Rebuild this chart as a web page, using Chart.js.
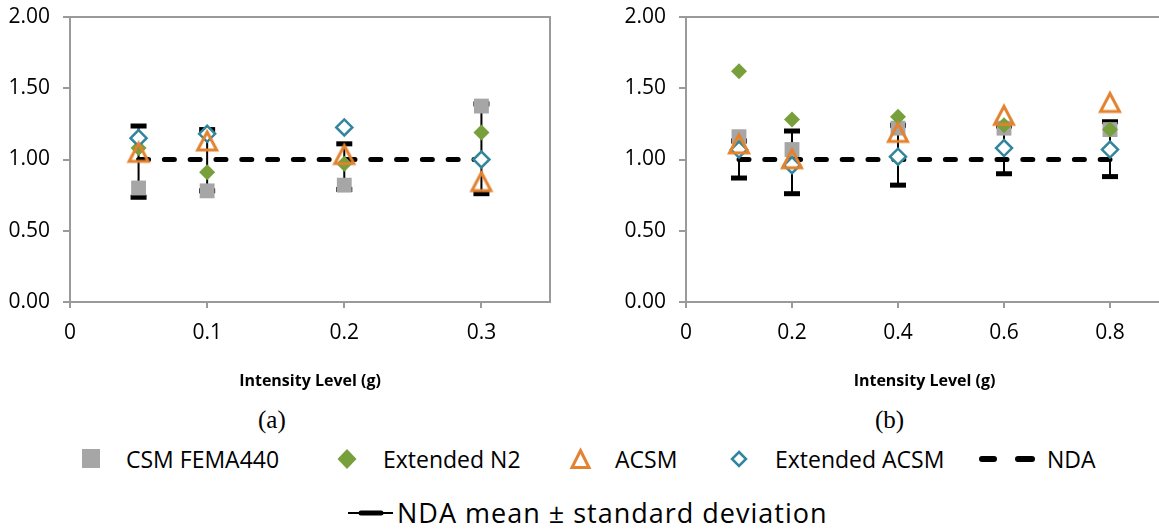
<!DOCTYPE html>
<html>
<head>
<meta charset="utf-8">
<script src="https://cdn.jsdelivr.net/npm/chart.js@4"></script>
<style>
    html, body { margin: 0; padding: 0; background: #fff; overflow: hidden; }
    body { width: 1159px; height: 529px; position: relative; font-family: 'Open Sans', sans-serif; color: #000; }
    .box { position: absolute; }
    .caption { position: absolute; font-family: 'Liberation Serif', serif; font-size: 25px; line-height: 30px; }
    .leg { position: absolute; font-size: 23px; line-height: 30px; white-space: nowrap; }
    .leg2 { position: absolute; font-size: 27px; line-height: 36px; letter-spacing: 1px; white-space: nowrap; }
</style>
</head>
<body>
<div class="box" style="left:0;top:0;width:580px;height:400px;"><canvas id="chartA"></canvas></div>
<div class="box" style="left:616px;top:0;width:560px;height:400px;"><canvas id="chartB"></canvas></div>

<div class="caption" style="left:258px;top:405px;">(a)</div>
<div class="caption" style="left:875px;top:405px;">(b)</div>

<!-- legend -->
<svg class="box" style="left:0;top:440px;" width="1159" height="90">
    <rect x="82" y="9" width="18" height="19" fill="#a6a6a6"/>
    <polygon points="347,9 356.5,19 347,29 337.5,19" fill="#77a03c"/>
    <polygon points="580.5,10.5 589,27.5 572,27.5" fill="none" stroke="#e3822f" stroke-width="3"/>
    <polygon points="739,12 746,19 739,26 732,19" fill="none" stroke="#31859c" stroke-width="2.5"/>
    <line x1="982" y1="19" x2="994" y2="19" stroke="#000" stroke-width="6" stroke-linecap="round"/>
    <line x1="1018" y1="19" x2="1032" y2="19" stroke="#000" stroke-width="6" stroke-linecap="round"/>
    <line x1="348" y1="73" x2="393" y2="73" stroke="#000" stroke-width="2"/>
    <line x1="361" y1="73" x2="381" y2="73" stroke="#000" stroke-width="5" stroke-linecap="round"/>
</svg>
<div class="leg" style="left:126px;top:444px;">CSM FEMA440</div>
<div class="leg" style="left:383px;top:444px;">Extended N2</div>
<div class="leg" style="left:615px;top:444px;">ACSM</div>
<div class="leg" style="left:775px;top:444px;">Extended ACSM</div>
<div class="leg" style="left:1047px;top:444px;">NDA</div>
<div class="leg2" style="left:397px;top:495px;">NDA mean ± standard deviation</div>

<script>
// Panel (a) data
const xA = [0.05, 0.1, 0.2, 0.3];
const csmA = [0.80, 0.78, 0.82, 1.375];
const n2A = [1.08, 0.91, 0.97, 1.19];
const acsmA = [1.05, 1.13, 1.035, 0.845];
const extA = [1.15, 1.18, 1.225, 1.00];
const ndaA = [1.00, 1.00, 1.00, 1.00];
const hiA = [1.235, 1.21, 1.11, 1.39];
const loA = [0.735, 0.78, 0.79, 0.76];
const xTicksA = [0, 0.1, 0.2, 0.3];

// Panel (b) data
const xB = [0.1, 0.2, 0.4, 0.6, 0.8];
const csmB = [1.16, 1.07, 1.22, 1.22, 1.21];
const n2B = [1.62, 1.28, 1.30, 1.24, 1.21];
const acsmB = [1.11, 1.005, 1.19, 1.31, 1.40];
const extB = [1.07, 0.96, 1.02, 1.08, 1.07];
const ndaB = [1.00, 1.00, 1.00, 1.00, 1.00];
const hiB = [1.13, 1.20, 1.24, 1.235, 1.265];
const loB = [0.87, 0.76, 0.82, 0.90, 0.88];
const xTicksB = [0, 0.2, 0.4, 0.6, 0.8];

const yTicks = [0, 0.5, 1.0, 1.5, 2.0];

const axisColor = '#9a9a9a';
const tickFont = { family: 'Open Sans', size: 21 };

// Outlined triangle marker (centered on its box like the original)
function makeTriangle() {
    const c = document.createElement('canvas');
    c.width = 26;
    c.height = 26;
    const ctx = c.getContext('2d');
    ctx.strokeStyle = '#e3822f';
    ctx.lineWidth = 3;
    ctx.beginPath();
    ctx.moveTo(13, 4);
    ctx.lineTo(22.5, 22);
    ctx.lineTo(3.5, 22);
    ctx.closePath();
    ctx.stroke();
    return c;
}
const triangle = makeTriangle();

function pts(xs, ys) {
    return xs.map((x, i) => ({ x: x, y: ys[i] }));
}

// Vertical bars, broken with nulls between groups
function errorBars(xs, hi, lo) {
    const out = [];
    xs.forEach((x, i) => {
        out.push({ x: x, y: hi[i] });
        out.push({ x: x, y: lo[i] });
        out.push({ x: x, y: null });
    });
    return out;
}

// Frame on top and right of the plot area
const framePlugin = {
    id: 'frame',
    beforeDatasetsDraw(chart) {
        const a = chart.chartArea;
        const ctx = chart.ctx;
        ctx.save();
        ctx.strokeStyle = axisColor;
        ctx.lineWidth = 2;
        ctx.beginPath();
        ctx.moveTo(a.left, a.top);
        ctx.lineTo(a.right, a.top);
        ctx.lineTo(a.right, a.bottom);
        ctx.stroke();
        ctx.restore();
    }
};

function makeChart(id, xs, csm, n2, acsm, ext, nda, hi, lo, xTicks, xMax, padRight) {
    const ctx = document.getElementById(id).getContext('2d');
    return new Chart(ctx, {
        type: 'scatter',
        data: {
            datasets: [
                {
                    label: 'ACSM',
                    data: pts(xs, acsm),
                    pointStyle: triangle,
                    order: 0
                },
                {
                    label: 'Extended ACSM',
                    data: pts(xs, ext),
                    pointStyle: 'rectRot',
                    pointRadius: 8,
                    backgroundColor: '#ffffff',
                    borderColor: '#31859c',
                    borderWidth: 2.5,
                    order: 1
                },
                {
                    label: 'Extended N2',
                    data: pts(xs, n2),
                    pointStyle: 'rectRot',
                    pointRadius: 8,
                    backgroundColor: '#77a03c',
                    borderColor: '#77a03c',
                    borderWidth: 0,
                    order: 2
                },
                {
                    label: 'CSM FEMA440',
                    data: pts(xs, csm),
                    pointStyle: 'rect',
                    pointRadius: 10.5,
                    backgroundColor: '#a6a6a6',
                    borderColor: '#a6a6a6',
                    borderWidth: 0,
                    order: 3
                },
                {
                    label: 'NDA',
                    data: pts(xs, nda),
                    showLine: true,
                    pointRadius: 0,
                    borderColor: '#000',
                    borderWidth: 5,
                    borderDash: [10, 15.8],
                    borderCapStyle: 'round',
                    order: 4
                },
                {
                    label: 'NDA mean ± standard deviation',
                    data: errorBars(xs, hi, lo),
                    showLine: true,
                    spanGaps: false,
                    borderColor: '#000',
                    borderWidth: 2,
                    pointStyle: 'line',
                    pointRadius: 8,
                    pointBorderWidth: 5,
                    pointBorderColor: '#000',
                    order: 5
                }
            ]
        },
        options: {
            responsive: true,
            maintainAspectRatio: false,
            animation: false,
            devicePixelRatio: 1,
            layout: {
                padding: { top: 17, right: padRight, left: 0, bottom: 0 }
            },
            scales: {
                x: {
                    type: 'linear',
                    min: 0,
                    max: xMax,
                    afterBuildTicks: (scale) => {
                        scale.ticks = xTicks.map(v => ({ value: v }));
                    },
                    afterFit: (scale) => {
                        scale.height = 98;
                        scale.paddingLeft = 0;
                        scale.paddingRight = 0;
                    },
                    ticks: {
                        font: tickFont,
                        color: '#000',
                        padding: 12,
                        maxRotation: 0,
                        callback: (v) => String(+v.toFixed(2))
                    },
                    grid: {
                        drawOnChartArea: false,
                        tickLength: 6,
                        color: axisColor,
                        lineWidth: 2
                    },
                    border: { color: axisColor, width: 2 },
                    title: {
                        display: true,
                        text: 'Intensity Level (g)',
                        color: '#000',
                        font: { family: 'Open Sans', size: 16, weight: 'bold' },
                        padding: { top: 0, bottom: 9 }
                    }
                },
                y: {
                    min: 0,
                    max: 2,
                    afterBuildTicks: (scale) => {
                        scale.ticks = yTicks.map(v => ({ value: v }));
                    },
                    afterFit: (scale) => {
                        scale.width = 70;
                        scale.paddingTop = 0;
                        scale.paddingBottom = 0;
                    },
                    ticks: {
                        font: tickFont,
                        color: '#000',
                        padding: 13,
                        callback: (v) => v.toFixed(2)
                    },
                    grid: {
                        drawOnChartArea: false,
                        tickLength: 7,
                        color: axisColor,
                        lineWidth: 2
                    },
                    border: { color: axisColor, width: 2 }
                }
            },
            plugins: {
                legend: { display: false },
                tooltip: { enabled: false }
            }
        },
        plugins: [framePlugin]
    });
}

window.addEventListener('load', () => {
    makeChart('chartA', xA, csmA, n2A, acsmA, extA, ndaA, hiA, loA, xTicksA, 0.35, 30);
    makeChart('chartB', xB, csmB, n2B, acsmB, extB, ndaB, hiB, loB, xTicksB, 0.9, 8);
});
</script>
</body>
</html>
